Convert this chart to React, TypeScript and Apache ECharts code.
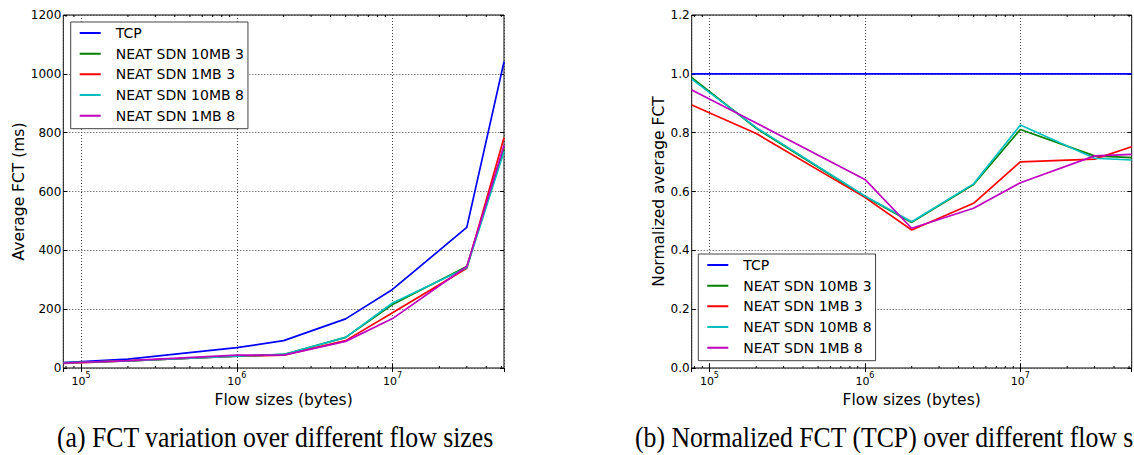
import React, { useEffect, useRef } from 'react';
import * as echarts from 'echarts';

// ---- data ----
const flowSizes = [77000, 200000, 1000000, 2000000, 5000000, 10000000, 30000000, 52000000];
const seriesNames = ['TCP', 'NEAT SDN 10MB 3', 'NEAT SDN 1MB 3', 'NEAT SDN 10MB 8', 'NEAT SDN 1MB 8'];
const seriesColors = ['#0000ff', '#008000', '#ff0000', '#00bfbf', '#bf00bf'];

const fctTcp = [18, 30, 69, 93, 167, 267, 478, 1041];
const fct10mb3 = [17.8, 24.5, 40, 46, 104, 216, 345, 744];
const fct1mb3 = [16, 24, 40, 43.6, 93, 188, 339, 783];
const fct10mb8 = [17.7, 24.5, 40, 46, 104, 221, 341, 736];
const fct1mb8 = [17, 25, 44, 44, 90.5, 168, 345, 756];

const normTcp = [1, 1, 1, 1, 1, 1, 1, 1];
const norm10mb3 = [0.987, 0.815, 0.583, 0.495, 0.624, 0.811, 0.721, 0.715];
const norm1mb3 = [0.894, 0.797, 0.58, 0.469, 0.56, 0.701, 0.71, 0.752];
const norm10mb8 = [0.982, 0.817, 0.585, 0.497, 0.626, 0.826, 0.713, 0.707];
const norm1mb8 = [0.945, 0.833, 0.641, 0.475, 0.543, 0.63, 0.721, 0.726];

const xMin = 76900;
const xMax = 52000000;
const minorTickValues = [
  80000, 90000,
  200000, 300000, 400000, 500000, 600000, 700000, 800000, 900000,
  2000000, 3000000, 4000000, 5000000, 6000000, 7000000, 8000000, 9000000,
  20000000, 30000000, 40000000, 50000000,
];

const captionA = '(a) FCT variation over different flow sizes';
const captionB = '(b) Normalized FCT (TCP) over different flow sizes';
const xTitle = 'Flow sizes (bytes)';
const yTitleA = 'Average FCT (ms)';
const yTitleB = 'Normalized average FCT';

const FONT = 'DejaVu Sans';

function pairs(vals: number[]) {
  return flowSizes.map((x, i) => [x, vals[i]]);
}

export default function App() {
  const ref = useRef<HTMLDivElement>(null);

  useEffect(() => {
    if (!ref.current) return;
    const chart = echarts.init(ref.current, null, { renderer: 'svg' });

    const grids = [
      { left: 63.3, top: 15, width: 440.7, height: 353 },
      { left: 691.7, top: 15, width: 440, height: 353 },
    ];

    const xLabelFormatter = (v: number) => {
      const e = Math.log10(v);
      if (Math.abs(e - Math.round(e)) > 1e-6) return '';
      return `{b|10}{s|${Math.round(e)}}`;
    };

    const baseX = (gridIndex: number, position: 'bottom' | 'top') => ({
      type: 'log',
      logBase: 10,
      gridIndex,
      position,
      min: xMin,
      max: xMax,
      axisLine: { show: false },
      axisTick: { show: true, inside: true, length: 4, lineStyle: { color: '#000', width: 1 } },
      splitLine: position === 'bottom'
        ? { show: true, lineStyle: { color: '#444', width: 1, type: [1, 2] } }
        : { show: false },
      axisLabel: position === 'bottom'
        ? {
            show: true,
            margin: 3,
            showMinLabel: false,
            showMaxLabel: false,
            formatter: xLabelFormatter,
            rich: {
              b: { fontFamily: FONT, fontSize: 11, color: '#000', lineHeight: 16, verticalAlign: 'bottom' },
              s: { fontFamily: FONT, fontSize: 8, color: '#000', lineHeight: 8, verticalAlign: 'top' },
            },
          }
        : { show: false },
      name: position === 'bottom' ? xTitle : '',
      nameLocation: 'middle',
      nameGap: 21,
      nameTextStyle: { fontFamily: FONT, fontSize: 15.5, color: '#000' },
    });

    const baseY = (gridIndex: number, position: 'left' | 'right', max: number, interval: number, decimals: number, name: string, nameGap: number) => ({
      type: 'value',
      gridIndex,
      position,
      min: 0,
      max,
      interval,
      axisLine: { show: false },
      axisTick: { show: true, inside: true, length: 4, lineStyle: { color: '#000', width: 1 } },
      splitLine: position === 'left'
        ? { show: true, lineStyle: { color: '#444', width: 1, type: [1, 2] } }
        : { show: false },
      axisLabel: position === 'left'
        ? {
            show: true,
            margin: 2,
            fontFamily: FONT,
            fontSize: 12,
            color: '#000',
            formatter: (v: number) => v.toFixed(decimals),
          }
        : { show: false },
      name: position === 'left' ? name : '',
      nameLocation: 'middle',
      nameGap,
      nameTextStyle: { fontFamily: FONT, fontSize: 15.5, color: '#000' },
    });

    const minorTickSeries = (idx: number) => ({
      type: 'custom',
      xAxisIndex: idx,
      yAxisIndex: idx,
      silent: true,
      clip: false,
      z: 5,
      data: minorTickValues.map((v) => [v, 0]),
      renderItem: (params: any, api: any) => {
        const x = api.coord([api.value(0), 0])[0];
        const cs = params.coordSys;
        const bottom = cs.y + cs.height;
        return {
          type: 'group',
          children: [
            { type: 'line', shape: { x1: x, y1: bottom, x2: x, y2: bottom - 2 }, style: { stroke: '#000', lineWidth: 1 } },
            { type: 'line', shape: { x1: x, y1: cs.y, x2: x, y2: cs.y + 2 }, style: { stroke: '#000', lineWidth: 1 } },
          ],
        };
      },
    });

    const lineSeries = (name: string, color: string, vals: number[], idx: number) => ({
      type: 'line',
      name,
      xAxisIndex: idx,
      yAxisIndex: idx,
      data: pairs(vals),
      showSymbol: false,
      symbol: 'none',
      color,
      lineStyle: { color, width: 1.7 },
      z: 3,
    });

    const leftVals = [fctTcp, fct10mb3, fct1mb3, fct10mb8, fct1mb8];
    const rightVals = [normTcp, norm10mb3, norm1mb3, norm10mb8, norm1mb8];

    const legendIcon = 'path://M0,0 H21 V2 H0 Z M30.99,0 H31 V2 H30.99 Z';
    const legendBase = (left: number, top: number) => ({
      orient: 'vertical',
      left,
      top,
      data: seriesNames,
      icon: legendIcon,
      itemWidth: 31,
      itemHeight: 2,
      itemGap: 6.67,
      padding: [4, 4, 6, 9],
      borderColor: '#444',
      borderWidth: 1,
      borderRadius: 0,
      backgroundColor: '#fff',
      selectedMode: false,
      textStyle: { fontFamily: FONT, fontSize: 14, color: '#000', lineHeight: 14 },
    });

    const captionStyle = { fontFamily: 'Liberation Serif', fontSize: 26, fill: '#000', verticalAlign: 'middle' };

    const option: any = {
      animation: false,
      backgroundColor: '#fff',
      grid: grids.map((g) => ({ ...g, show: true, borderColor: '#000', borderWidth: 1, backgroundColor: 'transparent' })),
      xAxis: [baseX(0, 'bottom'), baseX(1, 'bottom'), baseX(0, 'top'), baseX(1, 'top')],
      yAxis: [
        baseY(0, 'left', 1200, 200, 0, yTitleA, 30),
        baseY(1, 'left', 1.2, 0.2, 1, yTitleB, 23),
        baseY(0, 'right', 1200, 200, 0, '', 0),
        baseY(1, 'right', 1.2, 0.2, 1, '', 0),
      ],
      legend: [legendBase(70.7, 22), legendBase(698.3, 254)],
      series: [
        ...seriesNames.map((n, i) => lineSeries(n, seriesColors[i], leftVals[i], 0)),
        ...seriesNames.map((n, i) => lineSeries(n, seriesColors[i], rightVals[i], 1)),
        minorTickSeries(0),
        minorTickSeries(1),
      ],
      graphic: [
        {
          type: 'text',
          x: 57,
          y: 438,
          scaleX: 0.99,
          scaleY: 1.1,
          style: { ...captionStyle, text: captionA },
        },
        {
          type: 'text',
          x: 635,
          y: 438,
          scaleX: 0.99,
          scaleY: 1.1,
          style: { ...captionStyle, text: captionB },
        },
      ],
    };

    chart.setOption(option);
    return () => chart.dispose();
  }, []);

  return (
    <div
      ref={ref}
      style={{ position: 'absolute', left: 0, top: 0, width: 1134, height: 455, background: '#fff' }}
    />
  );
}
